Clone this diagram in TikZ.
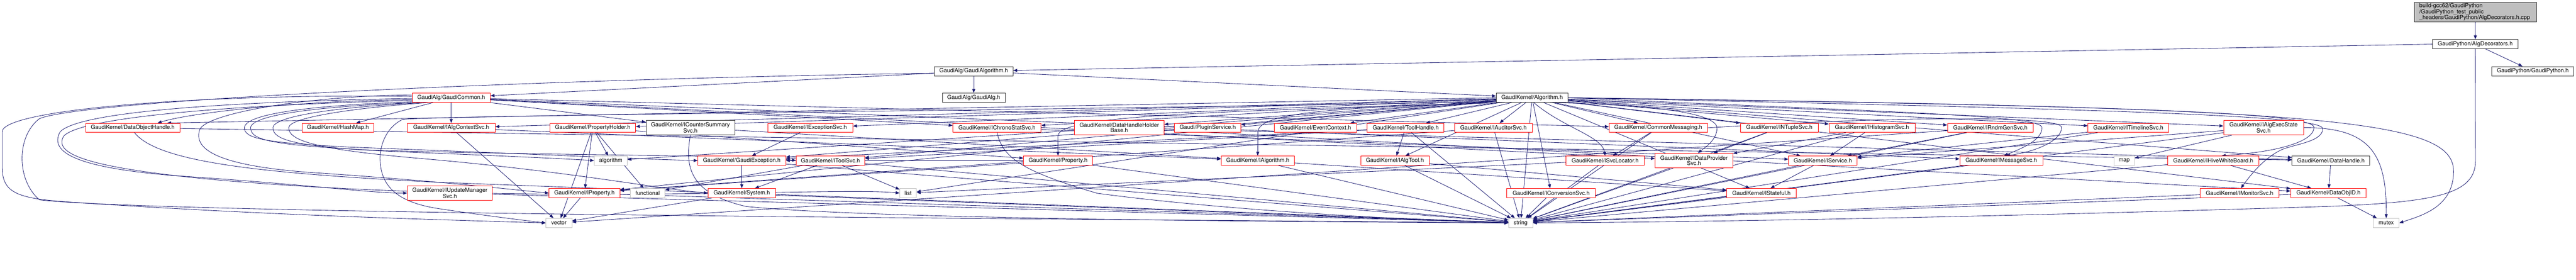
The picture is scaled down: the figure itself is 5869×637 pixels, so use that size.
\documentclass[tikz,border=0pt]{standalone}
\usepackage{fontspec}
\setmainfont{TeX Gyre Heros}
\usetikzlibrary{arrows.meta}
\pgfdeclarelayer{bg}
\pgfsetlayers{bg,main}
\definecolor{edgec}{HTML}{191970}
\tikzset{
  basebox/.style={draw, rectangle, inner sep=0pt, minimum height=21pt, fill=white,
    font=\fontsize{12.9pt}{12pt}\selectfont, align=center, line width=1pt},
  redbox/.style={basebox, draw=red},
  blkbox/.style={basebox, draw=black!80},
  grybox/.style={basebox, draw=black!25},
  edg/.style={draw=edgec, line width=1pt, -{Triangle[length=9pt,width=7pt]}},
}
\begin{document}
\begin{tikzpicture}[x=1pt,y=-1pt]
\useasboundingbox (0,0) rectangle (5869,637);
% top
\node[blkbox, fill=black!25, minimum width=278pt, minimum height=45pt, text width=256pt, inner xsep=11pt, align=left] (root) at (5640,27.5)
  {build-gcc62/GaudiPython\\/GaudiPython\_test\_public\\\_headers/GaudiPython/AlgDecorators.h.cpp};
\node[blkbox, minimum width=195pt] (algdec) at (5639.5,100.5) {GaudiPython/AlgDecorators.h};
\node[blkbox, minimum width=187pt] (gpy) at (5770.5,162) {GaudiPython/GaudiPython.h};
\node[blkbox, minimum width=179pt] (galgo) at (2218.5,162) {GaudiAlg/GaudiAlgorithm.h};
\node[blkbox, minimum width=143pt] (galg) at (2218.5,222.5) {GaudiAlg/GaudiAlg.h};
\node[redbox, minimum width=178pt] (gcommon) at (1028,222.5) {GaudiAlg/GaudiCommon.h};
\node[blkbox, minimum width=163pt] (algorithm) at (3490.5,222.5) {GaudiKernel/Algorithm.h};
% row 281
\node[redbox, minimum width=215pt] (doh) at (302.5,291) {GaudiKernel/DataObjectHandle.h};
\node[redbox, minimum width=164pt] (hashmap) at (770,291) {GaudiKernel/HashMap.h};
\node[redbox, minimum width=200pt] (iacs) at (1028,291) {GaudiKernel/IAlgContextSvc.h};
\node[redbox, minimum width=195pt] (ph) at (1350.5,291) {GaudiKernel/PropertyHolder.h};
\node[blkbox, minimum width=202pt, minimum height=33pt] (icss) at (1573,290.5) {GaudiKernel/ICounterSummary\\Svc.h};
\node[redbox, minimum width=194pt] (iexc) at (1846,291) {GaudiKernel/IExceptionSvc.h};
\node[redbox, minimum width=201pt] (ichrono) at (2271.5,291) {GaudiKernel/IChronoStatSvc.h};
\node[redbox, minimum width=204pt, minimum height=33pt] (dhhb) at (2550,290.5) {GaudiKernel/DataHandleHolder\\Base.h};
\node[redbox, minimum width=151pt] (plugin) at (2751.5,291) {Gaudi/PluginService.h};
\node[redbox, minimum width=188pt] (evctx) at (2997,291) {GaudiKernel/EventContext.h};
\node[redbox, minimum width=175pt] (toolh) at (3202.5,291) {GaudiKernel/ToolHandle.h};
\node[redbox, minimum width=177pt] (iaud) at (3402.5,291) {GaudiKernel/IAuditorSvc.h};
\node[redbox, minimum width=224pt] (cmsg) at (3778,291) {GaudiKernel/CommonMessaging.h};
\node[redbox, minimum width=178pt] (intuple) at (4054,291) {GaudiKernel/INTupleSvc.h};
\node[redbox, minimum width=196pt] (ihist) at (4265,291) {GaudiKernel/IHistogramSvc.h};
\node[redbox, minimum width=195pt] (irndm) at (4534.5,291) {GaudiKernel/IRndmGenSvc.h};
\node[redbox, minimum width=184pt] (itime) at (4849,291) {GaudiKernel/ITimelineSvc.h};
\node[redbox, minimum width=182pt, minimum height=33pt] (iaes) at (5157,290.5) {GaudiKernel/IAlgExecState\\Svc.h};
% row 355
\node[grybox, minimum width=75pt] (algorithmstd) at (1391.5,365.5) {algorithm};
\node[redbox, minimum width=200pt] (gexc) at (1690,365.5) {GaudiKernel/GaudiException.h};
\node[redbox, minimum width=156pt] (itoolsvc) at (1892,365.5) {GaudiKernel/IToolSvc.h};
\node[redbox, minimum width=157pt] (prop) at (2410.5,365.5) {GaudiKernel/Property.h};
\node[redbox, minimum width=167pt] (ialg) at (2865.5,365.5) {GaudiKernel/IAlgorithm.h};
\node[redbox, minimum width=156pt] (ialgtool) at (3178,365.5) {GaudiKernel/IAlgTool.h};
\node[redbox, minimum width=178pt] (isvcloc) at (3657,365.5) {GaudiKernel/ISvcLocator.h};
\node[redbox, minimum width=177pt, minimum height=33pt] (idps) at (3859.5,365.5) {GaudiKernel/IDataProvider\\Svc.h};
\node[redbox, minimum width=156pt] (iservice) at (4153,365.5) {GaudiKernel/IService.h};
\node[redbox, minimum width=189pt] (imsg) at (4559.5,365.5) {GaudiKernel/IMessageSvc.h};
\node[grybox, minimum width=47pt] (map) at (4839.5,365.5) {map};
\node[redbox, minimum width=207pt] (ihwb) at (5042.5,365.5) {GaudiKernel/IHiveWhiteBoard.h};
\node[blkbox, minimum width=177pt] (dh) at (5310.5,365.5) {GaudiKernel/DataHandle.h};
% row 430
\node[redbox, minimum width=194pt, minimum height=33pt] (iums) at (1025,439.5) {GaudiKernel/IUpdateManager\\Svc.h};
\node[redbox, minimum width=161pt] (iprop) at (1331.5,439.5) {GaudiKernel/IProperty.h};
\node[grybox, minimum width=79pt] (functional) at (1475.5,439.5) {functional};
\node[redbox, minimum width=154pt] (system) at (1690,439.5) {GaudiKernel/System.h};
\node[grybox, minimum width=38pt] (list) at (2069,439.5) {list};
\node[redbox, minimum width=202pt] (iconv) at (3534,439.5) {GaudiKernel/IConversionSvc.h};
\node[redbox, minimum width=158pt] (istateful) at (4013,439.5) {GaudiKernel/IStateful.h};
\node[redbox, minimum width=179pt] (imon) at (5102.5,439.5) {GaudiKernel/IMonitorSvc.h};
\node[redbox, minimum width=172pt] (doid) at (5305,439.5) {GaudiKernel/DataObjID.h};
% row 497
\node[grybox, minimum width=59pt] (vector) at (1273.5,507.5) {vector};
\node[grybox, minimum width=55pt] (string) at (3464.5,507.5) {string};
\node[grybox, minimum width=59pt] (mutex) at (5436.5,507.5) {mutex};

\begin{pgfonlayer}{bg}
\foreach \a/\b in {root/algdec, algdec/gpy, galgo/galg, galgo/gcommon, galgo/algorithm,
  gcommon/hashmap, gcommon/iacs, gcommon/icss, gcommon/ichrono, gcommon/cmsg, gcommon/idps, gcommon/imsg,
  algorithm/iacs, algorithm/ph, algorithm/iexc, algorithm/ichrono, algorithm/dhhb, algorithm/plugin,
  algorithm/evctx, algorithm/toolh, algorithm/iaud, algorithm/cmsg, algorithm/intuple, algorithm/ihist,
  algorithm/irndm, algorithm/itime, algorithm/iaes, algorithm/ialgtool, algorithm/iservice, algorithm/iprop,
  algorithm/iconv, algorithm/istateful, algorithm/dh, algorithm/doid, algorithm/string, algorithm/list,
  algorithm/gexc, algorithm/itoolsvc,
  iacs/vector, iacs/ialg, ph/vector, ph/iprop, ph/algorithmstd, ph/functional, ph/prop, icss/ialg,
  iexc/gexc, ichrono/iservice, dhhb/dh, dhhb/doid, dhhb/algorithmstd, toolh/ialgtool, toolh/string,
  toolh/itoolsvc, toolh/gexc, iaud/string, iaud/iprop, cmsg/isvcloc, cmsg/string, intuple/idps,
  intuple/string, ihist/idps, ihist/iservice, ihist/string, irndm/iservice, irndm/string, irndm/vector,
  itime/iservice, itime/string, iaes/map, iaes/iservice, iaes/string, doh/dh,
  gexc/system, gexc/string, itoolsvc/functional, itoolsvc/system, itoolsvc/list, itoolsvc/string,
  prop/iprop, prop/gexc, prop/string, ialg/istateful, ialg/string, ialgtool/string, ialgtool/istateful,
  isvcloc/string, isvcloc/list, idps/string, iservice/istateful, iservice/string, imsg/string,
  ihwb/doid, ihwb/string, dh/doid,
  iums/string, iprop/vector, iprop/string, system/vector, system/string, iconv/string,
  istateful/string, imon/string, doid/mutex, doid/string}
  { \draw[edg] (\a) -- (\b); }
\draw[edg] (algdec.west) -- (galgo);
\draw[edg] (algorithm.west) -- (doh.8);
\draw[edg] (gcommon.183) .. controls (700,228) and (440,255) .. (doh.11);
% left loops
\draw[edg] (gcommon.178) .. controls (450,213) and (5,250) .. (5,300) -- (5,380) .. controls (5,440) and (40,452) .. (160,460) .. controls (600,490) and (1000,500) .. (vector.west);
\draw[edg] (galgo.183) .. controls (1300,178) and (200,225) .. (90,270) .. controls (37,310) and (37,410) .. (90,455) .. controls (400,490) and (2800,500) .. (string.west);
\draw[edg] (gcommon.181) .. controls (500,232) and (180,255) .. (137,300) .. controls (115,340) and (150,380) .. (400,400) .. controls (700,420) and (850,440) .. (iums.west);
\draw[edg] (gcommon.184) .. controls (550,238) and (185,265) .. (145,310) .. controls (125,345) and (170,380) .. (500,410) .. controls (1200,470) and (1900,425) .. (list.west);
\draw[edg] (gcommon.176) .. controls (700,218) and (470,258) .. (455,295) .. controls (442,335) and (480,375) .. (700,392) .. controls (1000,412) and (1150,430) .. (iprop.west);
\draw[edg] (gcommon.186) .. controls (700,240) and (560,260) .. (557,290) .. controls (555,315) and (600,325) .. (800,335) .. controls (1200,350) and (1450,362) .. (gexc.west);
\draw[edg] (gcommon.188) .. controls (720,242) and (575,262) .. (571,290) .. controls (570,320) and (620,330) .. (850,342) .. controls (1300,355) and (1700,352) .. (itoolsvc.west);
\draw[edg] (gcommon.190) .. controls (760,244) and (625,265) .. (622,290) .. controls (620,320) and (680,335) .. (900,345) .. controls (1150,355) and (1300,362) .. (algorithmstd.west);
\draw[edg] (gcommon.192) .. controls (800,246) and (660,268) .. (658,290) .. controls (656,320) and (720,340) .. (950,360) .. controls (1300,390) and (1500,430) .. (system.west);
\draw[edg] (algorithm.186) .. controls (2500,250) and (1000,262) .. (917,272) .. controls (880,290) and (866,330) .. (866,360) .. controls (866,420) and (900,460) .. (1000,475) .. controls (1100,490) and (1180,500) .. (vector.west);
\draw[edg] (doh.290) .. controls (360,370) and (600,395) .. (1000,415) -- (string.west);
% algorithm curves
\draw[edg] (algorithm.188) .. controls (3050,245) and (2868,255) .. (2866,300) -- (ialg.north);
\draw[edg] (algorithm.190) .. controls (2700,255) and (2412,265) .. (2410,310) -- (prop.north);
\draw[edg] (algorithm.-15) .. controls (3750,238) and (3915,255) .. (3912,293) .. controls (3910,320) and (3885,335) .. (idps.62);
\draw[edg] (algorithm.-70) .. controls (3560,290) and (3650,310) .. (isvcloc.north);
\draw[edg] (algorithm.east) .. controls (4300,255) and (4650,262) .. (4652,290) .. controls (4654,320) and (4600,340) .. (imsg.60);
\draw[edg] (cmsg.east) .. controls (4300,265) and (4697,262) .. (4697,290) .. controls (4697,320) and (4640,345) .. (imsg.45);
\draw[edg] (algorithm.east) .. controls (4800,240) and (5272,255) .. (5272,290) .. controls (5272,320) and (5200,345) .. (ihwb.30);
\draw[edg] (algorithm.east) .. controls (4900,250) and (5292,265) .. (5292,293) .. controls (5292,322) and (5230,328) .. (5200,340) .. controls (5160,358) and (5130,395) .. (imon.75);
\draw[edg] (algorithm.east) .. controls (5300,245) and (5590,270) .. (5590,390) .. controls (5590,470) and (5520,490) .. (mutex.east);
\draw[edg] (iaes.east) .. controls (5400,290) and (5438,350) .. (mutex.north);
\draw[edg] (algdec.south) -- (5640,365) .. controls (5640,440) and (5560,460) .. (5300,470) .. controls (4500,495) and (3900,505) .. (string.east);
\draw[edg] (icss.south) .. controls (1560,380) and (1570,440) .. (1700,470) .. controls (2000,500) and (3000,505) .. (string.west);
\draw[edg] (ichrono.south) .. controls (2285,360) and (2330,390) .. (2500,440) .. controls (2800,480) and (3200,500) .. (string.west);
\end{pgfonlayer}
\end{tikzpicture}
\end{document}
